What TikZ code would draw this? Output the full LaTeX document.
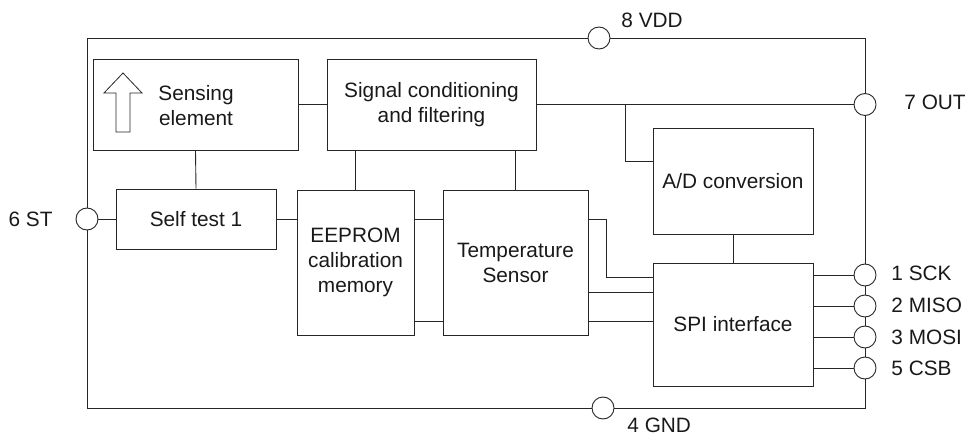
\documentclass[tikz,border=0pt]{standalone}
\usepackage{fontspec}
\setmainfont{Liberation Sans}
\begin{document}
\begin{tikzpicture}[x=1pt,y=-1pt,
  line width=0.9pt, draw=black!85,
  every node/.style={font=\fontsize{20.8}{25}\selectfont, text=black!90},
  blk/.style={draw=black!85, rectangle, inner sep=0pt, align=center},
  pin/.style={draw=black!85, circle, fill=white, minimum size=22pt, inner sep=0pt},
  lbl/.style={inner sep=0pt}]
\useasboundingbox (0,0) rectangle (965,435);

% blocks
\node[blk, minimum width=205pt, minimum height=91pt] (sense) at (195.5,104.5) {};
\node[lbl, align=center] (sensetxt) at (196,105.5) {Sensing\\element};
\node[blk, minimum width=209pt, minimum height=91pt] (signal) at (431.5,104.5) {Signal conditioning\\and filtering};
\node[blk, minimum width=160pt, minimum height=60pt] (self) at (196,219) {Self test 1};
\node[blk, minimum width=117pt, minimum height=145pt] (eeprom) at (355.5,262.5) {EEPROM\\calibration\\memory};
\node[blk, minimum width=145pt, minimum height=145pt] (temp) at (515.5,262.5) {Temperature\\Sensor};
\node[blk, minimum width=160pt, minimum height=106pt] (ad) at (733,181) {A/D conversion};
\node[blk, minimum width=160pt, minimum height=123pt] (spi) at (733,324.5) {SPI interface};

% hollow arrow in sensing element
\draw[line width=0.8pt] (123,73) -- (142,93) -- (130,93) -- (130,132) -- (116,132) -- (116,93) -- (104,93) -- cycle;

% pins
\node[pin] (vdd) at (599,38) {};
\node[pin] (gnd) at (603,408) {};
\node[pin] (st) at (87,219) {};
\node[pin] (out) at (865,104.5) {};
\node[pin] (sck) at (865,275) {};
\node[pin] (miso) at (865,306) {};
\node[pin] (mosi) at (865,337) {};
\node[pin] (csb) at (865,368) {};

% pin labels
\node[lbl, anchor=west] (vddl) at (621,20) {8 VDD};
\node[lbl, anchor=west] (gndl) at (627,425) {4 GND};
\node[lbl, anchor=west] (outl) at (904,102) {7 OUT};
\node[lbl, anchor=west] (sckl) at (891,273) {1 SCK};
\node[lbl, anchor=west] (misol) at (891,305) {2 MISO};
\node[lbl, anchor=west] (mosil) at (891,337) {3 MOSI};
\node[lbl, anchor=west] (csbl) at (891,368) {5 CSB};
\node[lbl, anchor=east] (stl) at (53,219) {6 ST};

% frame corners
\coordinate (tl) at (87,38);
\coordinate (tr) at (865,38);
\coordinate (bl) at (87,408);
\coordinate (brc) at (865,408);

\draw (st.north) -- (tl) -- (vdd.west);
\draw (vdd.east) -- (tr) -- (out.north);
\draw (out.south) -- (sck.north);
\draw (sck.south) -- (miso.north);
\draw (miso.south) -- (mosi.north);
\draw (mosi.south) -- (csb.north);
\draw (csb.south) -- (brc) -- (gnd.east);
\draw (gnd.west) -- (bl) -- (st.south);

% internal connectors
\draw (sense.east) -- (signal.west);
\draw (sense.south) -- (self.north);
\draw (st.east) -- (self.west);
\draw (self.east) -- (self.east -| eeprom.west);
\draw (eeprom.north) -- (eeprom.north |- signal.south);
\draw (temp.north) -- (temp.north |- signal.south);
\coordinate (ylow) at (0,321);
\coordinate (ymid) at (0,292);
\draw (eeprom.east |- self.east) -- (temp.west |- self.east);
\draw (eeprom.east |- ylow) -- (temp.west |- ylow);
\coordinate (bend) at (606,277);
\draw (temp.east |- self.east) -| (bend) -- (bend -| spi.west);
\draw (temp.east |- ymid) -- (spi.west |- ymid);
\draw (temp.east |- ylow) -- (spi.west |- ylow);
\draw (out.west -| signal.east) -- (out.west);
\coordinate (br) at (625,104.5);
\coordinate (adin) at (653,161);
\draw (br) |- (adin);
\draw (ad.south) -- (spi.north);
\draw (sck.west -| spi.east) -- (sck.west);
\draw (miso.west -| spi.east) -- (miso.west);
\draw (mosi.west -| spi.east) -- (mosi.west);
\draw (csb.west -| spi.east) -- (csb.west);
\end{tikzpicture}
\end{document}
